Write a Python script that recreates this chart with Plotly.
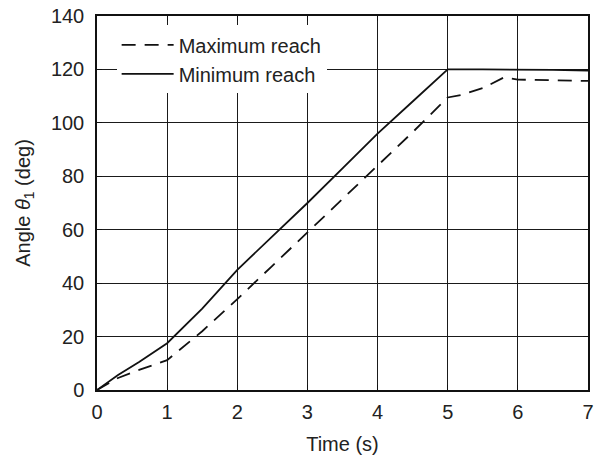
import plotly.graph_objects as go

# Joint angle trajectories over time
t_max = [0.0, 0.3, 0.6, 1.0, 1.5, 2.0, 2.5, 3.0, 3.5, 4.0, 4.5, 5.0, 5.2, 5.5, 5.8, 6.0, 6.5, 7.0]
theta_max = [0.0, 4.5, 7.5, 11.2, 22.0, 34.0, 46.5, 59.0, 71.5, 84.0, 96.5, 109.5, 110.5, 113.0, 117.0, 116.2, 116.0, 115.7]

t_min = [0.0, 0.3, 0.6, 1.0, 1.5, 2.0, 2.5, 3.0, 3.5, 4.0, 4.5, 5.0, 5.5, 6.0, 6.5, 7.0]
theta_min = [0.0, 5.6, 10.5, 17.5, 30.5, 45.0, 57.5, 70.0, 83.0, 96.0, 108.0, 120.0, 120.0, 120.0, 119.8, 119.6]

x_ticks = [0, 1, 2, 3, 4, 5, 6, 7]
y_ticks = [0, 20, 40, 60, 80, 100, 120, 140]

font_family = "Liberation Sans, Arial, sans-serif"
text_color = "#222222"

fig = go.Figure()
fig.add_trace(go.Scatter(
    x=t_max, y=theta_max, mode="lines", name="Maximum reach",
    line=dict(color="#111111", width=1.8, dash="14px,9px"),
))
fig.add_trace(go.Scatter(
    x=t_min, y=theta_min, mode="lines", name="Minimum reach",
    line=dict(color="#111111", width=1.8),
))

axis_common = dict(
    showline=True, linecolor="#111111", linewidth=1.5, mirror="ticks",
    ticks="inside", ticklen=5, tickcolor="#111111",
    showgrid=True, gridcolor="#1a1a1a", gridwidth=1.2,
    zeroline=False, automargin=False,
    tickfont=dict(family=font_family, size=20, color=text_color),
)

fig.update_xaxes(
    range=[0, 7], tickvals=x_ticks, ticklabelstandoff=3,
    title=dict(text="Time (s)", font=dict(family=font_family, size=20, color=text_color)),
    **axis_common,
)
fig.update_yaxes(
    range=[0, 140], tickvals=y_ticks, ticklabelstandoff=7,
    title=dict(text="Angle <i>θ</i><sub>1</sub> (deg)", font=dict(family=font_family, size=20, color=text_color)),
    **axis_common,
)

fig.update_layout(
    width=595, height=463,
    margin=dict(l=97, r=7, t=16, b=73, autoexpand=False),
    plot_bgcolor="white", paper_bgcolor="white",
    font=dict(family=font_family, size=20, color=text_color),
    legend=dict(
        x=0.04, y=0.975, xanchor="left", yanchor="top",
        bgcolor="white", borderwidth=0, itemwidth=52,
        font=dict(family=font_family, size=20, color=text_color),
        tracegroupgap=0,
    ),
)

fig.write_html("out.html")
